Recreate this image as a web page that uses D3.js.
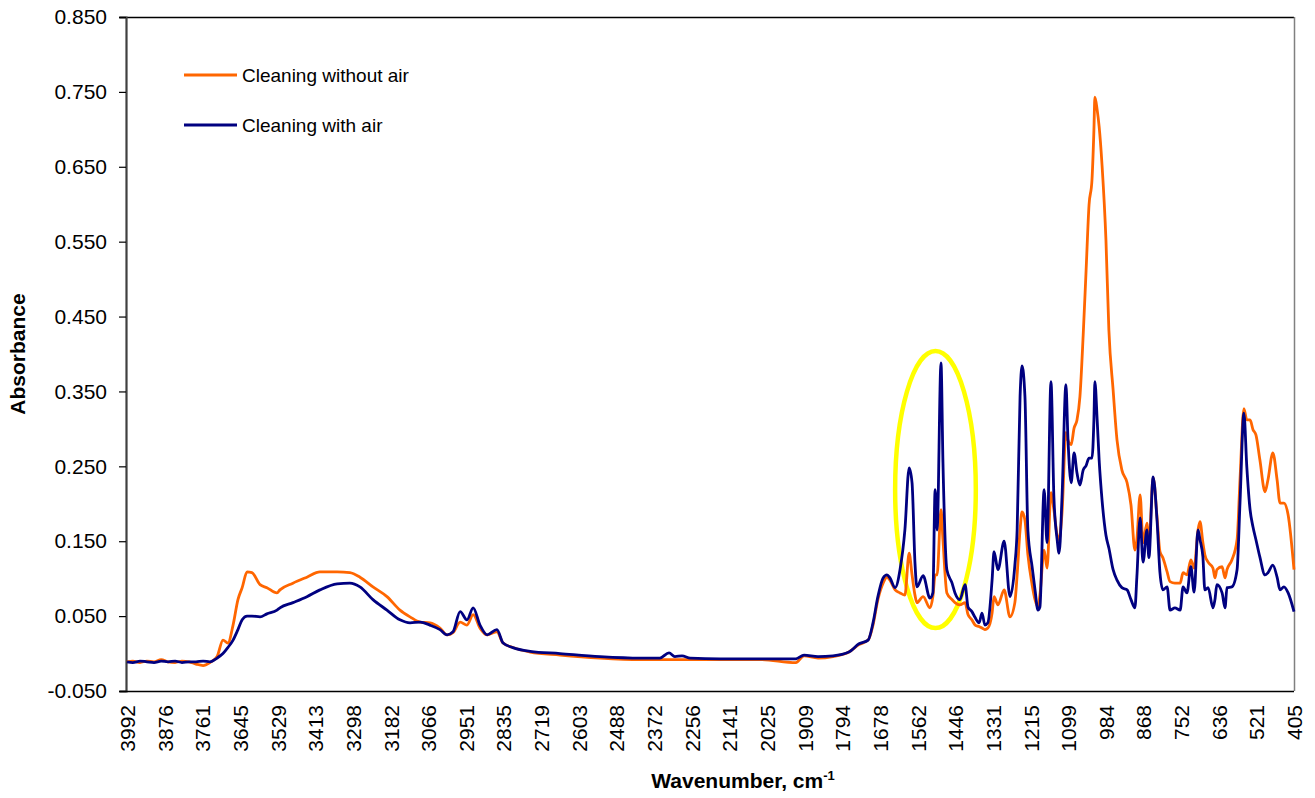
<!DOCTYPE html>
<html>
<head>
<meta charset="utf-8">
<script src="https://cdn.jsdelivr.net/npm/d3@7"></script>
<style>
  html, body { margin: 0; padding: 0; background: #fff; }
  svg { display: block; }
  text { font-family: "Liberation Sans", Arial, sans-serif; fill: #000; }
</style>
</head>
<body>
<svg id="chart" width="1315" height="798"></svg>
<script>
// ---- data ----
const wavenumbers = [
  3992, 3974, 3952, 3931, 3909, 3887, 3866, 3844, 3823, 3801, 3780, 3758, 3737, 3715, 3697, 3682,
  3666, 3651, 3638, 3623, 3608, 3583, 3562, 3531, 3522, 3482, 3439, 3399, 3346, 3307, 3276, 3236,
  3193, 3153, 3122, 3091, 3061, 3030, 3008, 2990, 2968, 2947, 2928, 2907, 2885, 2855, 2836, 2806,
  2753, 2661, 2538, 2415, 2354, 2326, 2308, 2286, 2261, 2169, 2046, 1936, 1911, 1868, 1822, 1773,
  1742, 1714, 1699, 1684, 1668, 1656, 1647, 1631, 1616, 1601, 1588, 1579, 1570, 1564, 1545, 1524,
  1515, 1508, 1502, 1490, 1484, 1472, 1456, 1447, 1432, 1416, 1407, 1395, 1385, 1373, 1364, 1355,
  1346, 1333, 1327, 1315, 1296, 1278, 1263, 1256, 1247, 1241, 1232, 1223, 1210, 1201, 1192, 1186,
  1173, 1164, 1152, 1143, 1133, 1127, 1118, 1106, 1100, 1090, 1081, 1072, 1063, 1053, 1044, 1035,
  1026, 1020, 1017, 1010, 1004, 995, 983, 974, 961, 949, 934, 918, 906, 894, 888, 878,
  869, 857, 851, 838, 826, 817, 808, 795, 786, 771, 755, 746, 734, 722, 712, 700,
  694, 685, 679, 669, 654, 648, 642, 626, 617, 611, 596, 580, 571, 559, 550, 540,
  531, 522, 510, 494, 485, 470, 457, 448, 436, 423, 405
];
const cleaningWithoutAir = [
  -0.011, -0.010, -0.012, -0.010, -0.011, -0.008, -0.011, -0.012, -0.010, -0.011, -0.014, -0.016, -0.012, -0.004, 0.018, 0.014,
  0.038, 0.072, 0.088, 0.109, 0.108, 0.092, 0.088, 0.081, 0.085, 0.094, 0.102, 0.109, 0.109, 0.108, 0.102, 0.089,
  0.076, 0.058, 0.049, 0.042, 0.041, 0.034, 0.025, 0.028, 0.042, 0.038, 0.052, 0.034, 0.025, 0.029, 0.014, 0.008,
  0.002, -0.002, -0.006, -0.008, -0.008, -0.008, -0.008, -0.008, -0.008, -0.008, -0.008, -0.012, -0.003, -0.006, -0.004, 0.002,
  0.012, 0.018, 0.038, 0.072, 0.094, 0.102, 0.098, 0.085, 0.081, 0.078, 0.134, 0.105, 0.078, 0.068, 0.076, 0.061,
  0.076, 0.105, 0.105, 0.192, 0.152, 0.081, 0.072, 0.068, 0.065, 0.068, 0.052, 0.045, 0.038, 0.036, 0.034, 0.032,
  0.034, 0.054, 0.076, 0.065, 0.085, 0.049, 0.068, 0.105, 0.165, 0.189, 0.178, 0.132, 0.092, 0.072, 0.062, 0.078,
  0.138, 0.114, 0.215, 0.192, 0.158, 0.152, 0.188, 0.295, 0.285, 0.279, 0.301, 0.312, 0.343, 0.425, 0.512, 0.599,
  0.632, 0.699, 0.743, 0.726, 0.704, 0.652, 0.552, 0.432, 0.352, 0.285, 0.245, 0.228, 0.198, 0.138, 0.152, 0.212,
  0.148, 0.174, 0.145, 0.235, 0.182, 0.136, 0.128, 0.109, 0.096, 0.094, 0.094, 0.108, 0.105, 0.125, 0.114, 0.165,
  0.176, 0.148, 0.132, 0.122, 0.114, 0.101, 0.112, 0.116, 0.101, 0.112, 0.125, 0.152, 0.232, 0.327, 0.312, 0.312,
  0.299, 0.292, 0.259, 0.216, 0.232, 0.268, 0.232, 0.201, 0.201, 0.185, 0.112
];
const cleaningWithAir = [
  -0.011, -0.012, -0.010, -0.011, -0.012, -0.010, -0.011, -0.010, -0.012, -0.011, -0.011, -0.010, -0.011, -0.006, 0.000, 0.008,
  0.018, 0.032, 0.045, 0.050, 0.050, 0.049, 0.053, 0.058, 0.061, 0.068, 0.076, 0.085, 0.093, 0.094, 0.089, 0.072,
  0.058, 0.045, 0.041, 0.042, 0.038, 0.032, 0.025, 0.029, 0.056, 0.045, 0.061, 0.038, 0.025, 0.032, 0.014, 0.008,
  0.003, 0.000, -0.004, -0.006, -0.006, 0.001, -0.004, -0.003, -0.006, -0.007, -0.007, -0.007, -0.002, -0.004, -0.003, 0.002,
  0.013, 0.018, 0.041, 0.076, 0.101, 0.105, 0.101, 0.088, 0.112, 0.165, 0.248, 0.228, 0.121, 0.089, 0.104, 0.074,
  0.081, 0.219, 0.165, 0.388, 0.255, 0.112, 0.094, 0.081, 0.072, 0.092, 0.062, 0.056, 0.048, 0.041, 0.054, 0.038,
  0.041, 0.098, 0.136, 0.112, 0.150, 0.076, 0.118, 0.165, 0.343, 0.384, 0.343, 0.165, 0.116, 0.085, 0.058, 0.062,
  0.219, 0.148, 0.363, 0.209, 0.152, 0.134, 0.209, 0.359, 0.289, 0.228, 0.268, 0.241, 0.225, 0.245, 0.251, 0.261,
  0.261, 0.312, 0.363, 0.312, 0.259, 0.205, 0.158, 0.141, 0.112, 0.098, 0.088, 0.085, 0.072, 0.061, 0.102, 0.181,
  0.122, 0.165, 0.128, 0.236, 0.178, 0.108, 0.085, 0.089, 0.058, 0.061, 0.058, 0.089, 0.081, 0.116, 0.082, 0.165,
  0.152, 0.129, 0.085, 0.088, 0.061, 0.072, 0.092, 0.081, 0.061, 0.088, 0.089, 0.112, 0.201, 0.321, 0.249, 0.192,
  0.169, 0.152, 0.129, 0.105, 0.108, 0.118, 0.102, 0.085, 0.089, 0.081, 0.056
];
const xTickLabels = [3992, 3876, 3761, 3645, 3529, 3413, 3298, 3182, 3066, 2951, 2835, 2719, 2603, 2488,
  2372, 2256, 2141, 2025, 1909, 1794, 1678, 1562, 1446, 1331, 1215, 1099, 984, 868, 752, 636, 521, 405];
const yTickValues = [-0.05, 0.05, 0.15, 0.25, 0.35, 0.45, 0.55, 0.65, 0.75, 0.85];
const seriesNames = ["Cleaning without air", "Cleaning with air"];
const seriesColors = ["#FF6600", "#000080"];
// highlighted region (yellow ellipse): wavenumber span and absorbance span
const highlightWn = [1631, 1383];
const highlightAbs = [0.034, 0.404];

// ---- chart ----
const svg = d3.select("#chart");
const plot = { left: 126, right: 1294, top: 17, bottom: 691 };

const x = d3.scaleLinear().domain([3992, 405]).range([plot.left + 1, plot.right]);
const y = d3.scaleLinear().domain([-0.05, 0.85]).range([plot.bottom, plot.top]);

// plot frame: top (black) and right (gray) borders
svg.append("line").attr("x1", plot.left - 6).attr("x2", plot.right)
  .attr("y1", plot.top + 0.5).attr("y2", plot.top + 0.5)
  .attr("stroke", "#000").attr("stroke-width", 1.3);
svg.append("line").attr("x1", plot.right + 0.5).attr("x2", plot.right + 0.5)
  .attr("y1", plot.top).attr("y2", plot.bottom)
  .attr("stroke", "#808080").attr("stroke-width", 1.5);

// Y axis
const yAxis = d3.axisLeft(y).tickValues(yTickValues).tickSize(7).tickPadding(12)
  .tickFormat(d3.format(".3f"));
const gy = svg.append("g").attr("transform", `translate(${plot.left},0)`).call(yAxis);
gy.select(".domain").attr("stroke", "#404040").attr("stroke-width", 2.2);
gy.selectAll(".tick line").attr("stroke", "#000").attr("stroke-width", 1.2);
gy.selectAll(".tick text").attr("font-size", 21).attr("font-family", "Liberation Sans, Arial, sans-serif")
  .text(d => d < 0 ? "-" + Math.abs(d).toFixed(3) : d.toFixed(3));

// X axis
const xAxis = d3.axisBottom(x).tickValues(xTickLabels).tickSize(0).tickPadding(0).tickFormat(d => d);
const gx = svg.append("g").attr("transform", `translate(0,${plot.bottom})`).call(xAxis);
gx.select(".domain").remove();
svg.append("line").attr("x1", plot.left - 6).attr("x2", plot.right)
  .attr("y1", plot.bottom + 0.5).attr("y2", plot.bottom + 0.5)
  .attr("stroke", "#000").attr("stroke-width", 1.5);
gx.selectAll(".tick text")
  .attr("font-size", 21).attr("font-family", "Liberation Sans, Arial, sans-serif")
  .attr("text-anchor", "end")
  .attr("transform", "rotate(-90)")
  .attr("x", -14).attr("y", 0).attr("dy", "0.36em");

// Axis titles
svg.append("text").attr("transform", `translate(25,${(plot.top + plot.bottom) / 2}) rotate(-90)`)
  .attr("text-anchor", "middle").attr("font-weight", "bold").attr("font-size", 21)
  .text("Absorbance");
const xt = svg.append("text").attr("x", (plot.left + plot.right) / 2 + 33).attr("y", 788)
  .attr("text-anchor", "middle").attr("font-weight", "bold").attr("font-size", 21);
xt.append("tspan").text("Wavenumber, cm");
xt.append("tspan").attr("dy", -8).attr("font-size", 13).text("-1");

// Highlight ellipse
const cxWn = (highlightWn[0] + highlightWn[1]) / 2;
const cyAbs = (highlightAbs[0] + highlightAbs[1]) / 2;
svg.append("ellipse")
  .attr("cx", x(cxWn)).attr("cy", y(cyAbs))
  .attr("rx", Math.abs(x(highlightWn[1]) - x(highlightWn[0])) / 2)
  .attr("ry", Math.abs(y(highlightAbs[1]) - y(highlightAbs[0])) / 2)
  .attr("fill", "none").attr("stroke", "#FFFF00").attr("stroke-width", 4.5);

// Lines
const series = [cleaningWithoutAir, cleaningWithAir];
const line = d3.line()
  .x((d, i) => x(wavenumbers[i]))
  .y(d => y(d))
  .curve(d3.curveMonotoneX);
series.forEach((vals, k) => {
  svg.append("path").datum(vals)
    .attr("d", line)
    .attr("fill", "none")
    .attr("stroke", seriesColors[k])
    .attr("stroke-width", 2.8)
    .attr("stroke-linejoin", "round");
});

// Legend
const legend = svg.append("g");
seriesNames.forEach((name, k) => {
  const ly = 75 + k * 50;
  legend.append("line").attr("x1", 184).attr("x2", 237).attr("y1", ly).attr("y2", ly)
    .attr("stroke", seriesColors[k]).attr("stroke-width", 2.8);
  legend.append("text").attr("x", 242).attr("y", ly).attr("dy", "0.35em")
    .attr("font-size", 19).text(name);
});
</script>
</body>
</html>
